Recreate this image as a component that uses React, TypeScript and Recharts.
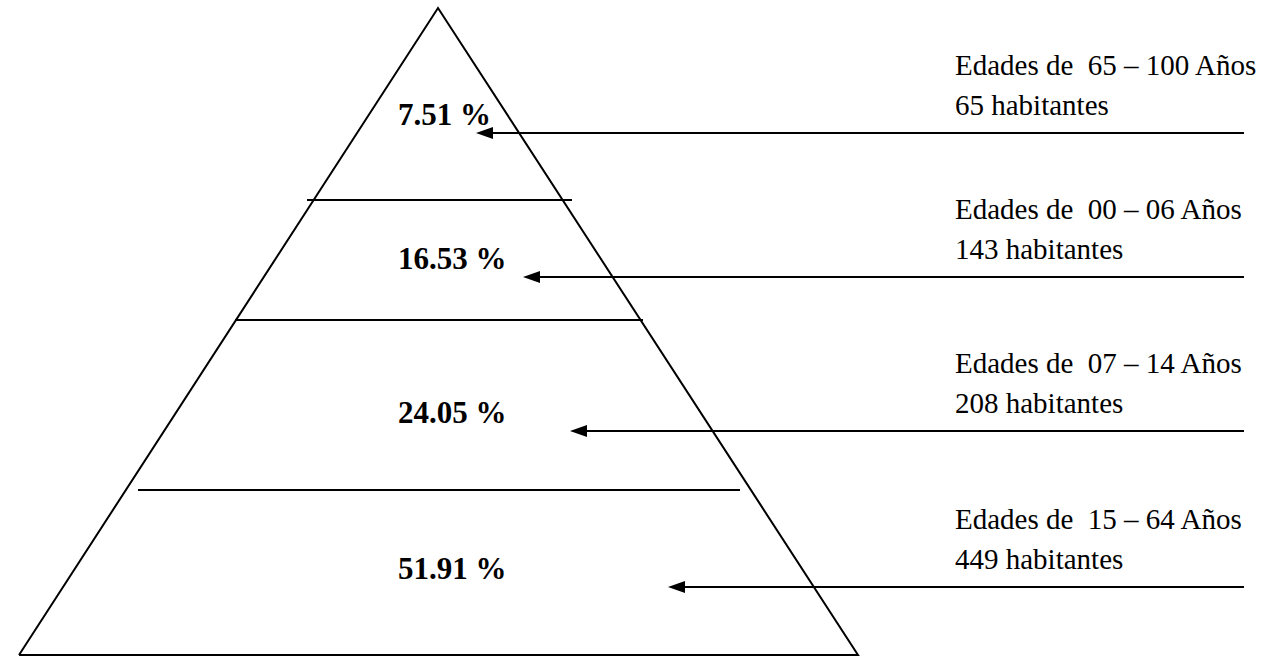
import { ComposedChart, Line, Scatter, XAxis, YAxis, ReferenceLine } from 'recharts';

// population pyramid by age group (top -> bottom)
const ageRanges = ['65 – 100', '00 – 06', '07 – 14', '15 – 64'];
const habitantes = [65, 143, 208, 449];
const percents = [7.51, 16.53, 24.05, 51.91];

// layout of the drawing, in chart units (1 unit = 1px)
const W = 1269;
const H = 658;
const pyramid = [
  { x: 19, y: 655 },
  { x: 438, y: 8 },
  { x: 858, y: 655 },
  { x: 19, y: 655 },
];
const dividers = [
  { y: 200, x1: 307, x2: 572 },
  { y: 320, x1: 235, x2: 643 },
  { y: 490, x1: 138, x2: 740 },
];
const arrowY = [133, 277, 431, 587];
const arrowTipX = [476, 523, 570, 668];
const arrowEndX = 1244;
const pctX = 398;
const textX = 955;

const FONT = '"Liberation Serif", "Times New Roman", serif';

const pctLabels = percents.map((p, i) => ({ x: pctX, y: arrowY[i] - 8, text: `${p.toFixed(2)} %` }));
// two spaces after "de" in the original, kept with a no-break space
const ageLabels = ageRanges.map((r, i) => ({ x: textX, y: arrowY[i] - 58, text: `Edades de\u00A0 ${r} Años` }));
const habLabels = habitantes.map((h, i) => ({ x: textX, y: arrowY[i] - 18, text: `${h} habitantes` }));

const Arrow = (props: any) => {
  const { x1, y1, x2, y2 } = props;
  const tip = Math.min(x1, x2);
  const end = Math.max(x1, x2);
  return (
    <g>
      <line x1={tip + 12} y1={y1} x2={end} y2={y2} stroke="#000" strokeWidth={2} />
      <polygon points={`${tip},${y1} ${tip + 17},${y1 - 6} ${tip + 17},${y1 + 6}`} fill="#000" />
    </g>
  );
};

const textShape = (bold: boolean) => (props: any) => (
  <text
    x={props.cx}
    y={props.cy}
    fontFamily={FONT}
    fontSize={bold ? 31 : 29}
    fontWeight={bold ? 'bold' : 'normal'}
    fill="#000"
  >
    {props.payload.text}
  </text>
);

export default function App() {
  return (
    <div style={{ position: 'absolute', left: 0, top: 0, background: '#fff' }}>
      <ComposedChart width={W} height={H} margin={{ top: 0, right: 0, bottom: 0, left: 0 }}>
        <XAxis type="number" dataKey="x" domain={[0, W]} hide />
        <YAxis type="number" dataKey="y" domain={[0, H]} reversed hide />
        <Line
          data={pyramid}
          dataKey="y"
          type="linear"
          stroke="#000"
          strokeWidth={2}
          dot={false}
          activeDot={false}
          isAnimationActive={false}
        />
        {dividers.map((d, i) => (
          <ReferenceLine
            key={`d${i}`}
            segment={[{ x: d.x1, y: d.y }, { x: d.x2, y: d.y }]}
            stroke="#000"
            strokeWidth={2}
          />
        ))}
        {arrowY.map((y, i) => (
          <ReferenceLine
            key={`a${i}`}
            segment={[{ x: arrowTipX[i], y }, { x: arrowEndX, y }]}
            shape={Arrow}
          />
        ))}
        <Scatter data={pctLabels} shape={textShape(true)} isAnimationActive={false} />
        <Scatter data={ageLabels} shape={textShape(false)} isAnimationActive={false} />
        <Scatter data={habLabels} shape={textShape(false)} isAnimationActive={false} />
      </ComposedChart>
    </div>
  );
}
